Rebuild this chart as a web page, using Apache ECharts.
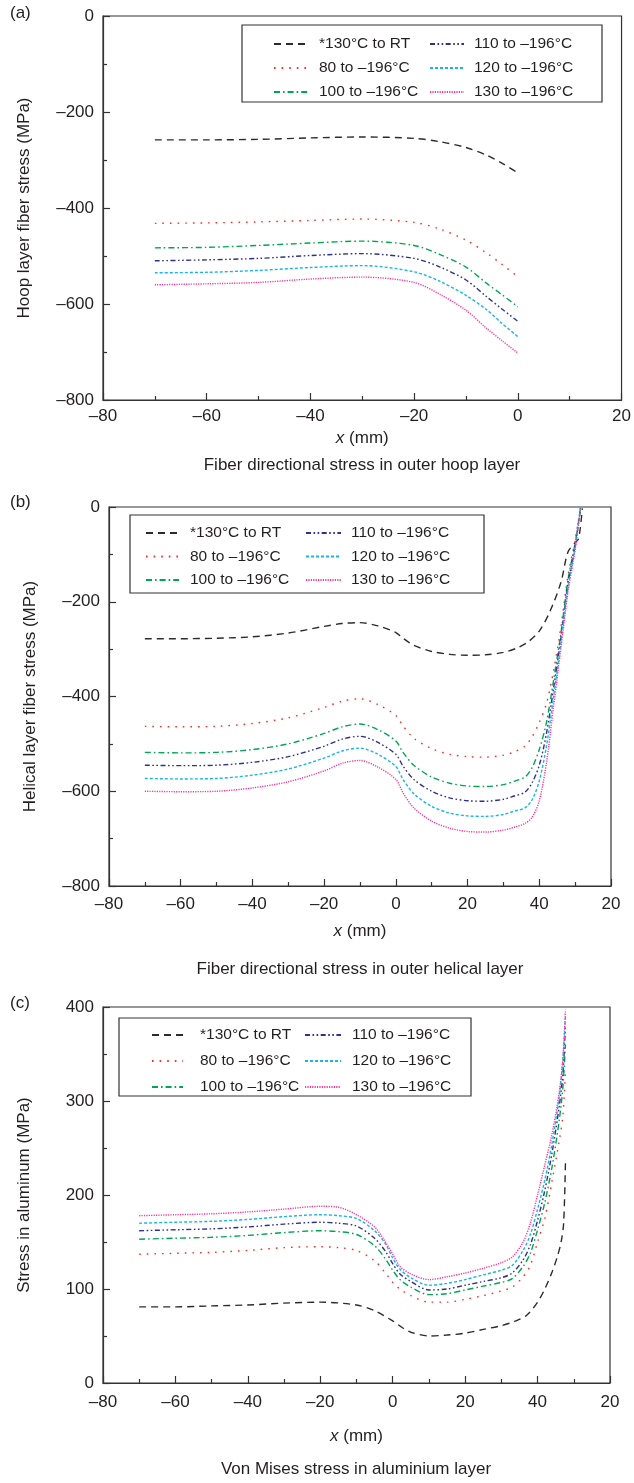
<!DOCTYPE html>
<html>
<head>
<meta charset="utf-8">
<script src="https://cdn.jsdelivr.net/npm/echarts@6/dist/echarts.min.js"></script>
<style>
  html, body { margin: 0; padding: 0; background: #fff; }
  #chart { width: 634px; height: 1483px; }
</style>
</head>
<body>
<div id="chart"></div>
<script>
const seriesNames = ['*130°C to RT', '80 to –196°C', '100 to –196°C',
  '110 to –196°C', '120 to –196°C', '130 to –196°C'];

// (a) fiber stress, outer hoop layer
const xHoop = [-70, -60, -50, -40, -30, -20, -15, -10, -6, -3, 0];
const hoopRT = [-258, -258, -257, -254, -252, -255, -262, -274, -290, -307, -327];
const hoop80 = [-432, -431, -429, -426, -423, -430, -444, -467, -494, -518, -543];
const hoop100 = [-483, -482, -478, -473, -469, -478, -497, -523, -557, -581, -606];
const hoop110 = [-510, -508, -505, -499, -495, -505, -523, -550, -585, -611, -636];
const hoop120 = [-535, -534, -530, -524, -520, -533, -553, -582, -612, -641, -668];
const hoop130 = [-560, -558, -555, -548, -544, -555, -580, -613, -651, -677, -702];

// (b) fiber stress, outer helical layer
const xHelRT = [-70, -60, -50, -40, -30, -20, -15, -10, -5, 0, 2, 5, 10, 15, 20, 25, 30, 34, 37, 40, 43, 46, 48, 50, 51, 52];
const helRT = [-278, -278, -277, -274, -266, -252, -246, -244, -251, -265, -277, -292, -305, -311, -313, -312, -307, -297, -284, -262, -220, -160, -95, -75, -66, -3];
const xHelCool = [-70, -60, -50, -40, -30, -20, -15, -10, -5, 0, 2, 5, 10, 15, 20, 25, 30, 33, 36, 38, 40, 42, 44, 46, 48, 50, 51.5];
const hel80 = [-463, -464, -463, -457, -445, -423, -410, -405, -417, -440, -462, -488, -510, -522, -527, -528, -524, -517, -505, -485, -455, -415, -345, -255, -145, -70, -2];
const hel100 = [-518, -519, -518, -512, -500, -478, -464, -458, -470, -494, -518, -545, -570, -583, -589, -590, -586, -579, -570, -550, -512, -455, -365, -268, -154, -76, -2];
const hel110 = [-545, -546, -545, -539, -527, -505, -490, -484, -497, -522, -547, -575, -600, -614, -620, -621, -617, -610, -602, -582, -545, -478, -382, -278, -162, -80, -3];
const hel120 = [-573, -574, -573, -566, -553, -530, -515, -509, -522, -548, -575, -605, -632, -646, -652, -653, -649, -642, -635, -618, -578, -505, -400, -288, -170, -85, -3];
const hel130 = [-600, -601, -600, -593, -580, -557, -541, -535, -549, -575, -603, -635, -663, -678, -685, -686, -682, -676, -668, -655, -620, -540, -420, -300, -180, -90, -4];

// (c) von Mises stress, aluminium layer
const xAlumRT = [-70, -60, -50, -40, -30, -20, -10, -5, 0, 3, 5, 10, 15, 20, 25, 30, 34, 37, 40, 42, 44, 45.5, 46.5, 47.2, 47.7];
const alumRT = [81, 81, 82, 83, 85, 86, 83, 77, 66, 58, 54, 50, 51, 53, 57, 61, 66, 72, 86, 100, 118, 135, 150, 170, 235];
const xAlumCool = [-70, -60, -50, -40, -30, -20, -15, -10, -5, -2, 0, 2, 5, 10, 15, 20, 25, 30, 33, 36, 38, 40, 42, 44, 46, 47, 47.7];
const alum80 = [137, 138, 139, 141, 144, 145, 144, 141, 130, 117, 107, 100, 93, 86, 86, 89, 93, 98, 102, 113, 125, 150, 175, 215, 258, 285, 330];
const alum100 = [153, 154, 155, 157, 160, 162, 161, 158, 146, 132, 120, 110, 102, 94, 95, 99, 103, 107, 111, 124, 138, 163, 192, 230, 280, 315, 360];
const alum110 = [162, 163, 164, 166, 169, 171, 170, 167, 154, 140, 127, 116, 108, 99, 100, 104, 108, 112, 117, 131, 147, 173, 205, 245, 295, 330, 380];
const alum120 = [170, 171, 172, 174, 177, 179, 178, 175, 162, 148, 133, 121, 112, 104, 106, 110, 115, 120, 125, 141, 158, 185, 216, 255, 305, 345, 390];
const alum130 = [178, 179, 180, 182, 185, 188, 187, 179, 166, 150, 137, 124, 116, 110, 113, 117, 122, 128, 134, 150, 170, 200, 232, 265, 310, 345, 397];

// tick labels
const xTicksA = ['–80', '–60', '–40', '–20', '0', '20'];
const xTicksBC = ['–80', '–60', '–40', '–20', '0', '20', '40', '20'];
const yTicksAB = ['–800', '–600', '–400', '–200', '0'];
const yTicksC = ['0', '100', '200', '300', '400'];

const colors = ['#2b2b2b', '#ff2b2b', '#00a651', '#2e3192', '#19b5ea', '#ff3399'];
const dashes = [[7, 5], [1.6, 6], [6, 3, 1.6, 3], [5, 2.5, 1.6, 2.5, 1.6, 2.5], [3, 2], [1.2, 1.2]];

const FONT = 'Liberation Sans, Arial, sans-serif';
const INK = '#231f20';

const chart = echarts.init(document.getElementById('chart'));

const grids = [
  { left: 103, top: 16, width: 519, height: 384 },
  { left: 109, top: 507, width: 502, height: 379 },
  { left: 103, top: 1007, width: 507, height: 376 }
].map(g => ({ ...g, show: true, borderColor: '#333', borderWidth: 1.2, backgroundColor: 'transparent' }));

const axisBase = {
  axisLine: { show: true, onZero: false, lineStyle: { color: '#333', width: 1.2 } },
  axisTick: { show: true, inside: true, length: 7, lineStyle: { color: '#333', width: 1.2 } },
  minorTick: { show: true, splitNumber: 2, length: 4, lineStyle: { color: '#333', width: 1.2 } },
  splitLine: { show: false },
  axisLabel: { color: INK, fontSize: 17, fontFamily: FONT }
};

const xAxis = (gi, max, ticks, nameGap, margin) => ({
  ...axisBase,
  type: 'value', gridIndex: gi, min: -80, max: max, interval: 20,
  name: '{i|x} (mm)', nameLocation: 'middle', nameGap: nameGap,
  nameTextStyle: { color: INK, fontSize: 17, fontFamily: FONT, rich: { i: { fontStyle: 'italic', fontSize: 17, fontFamily: FONT, color: INK } } },
  axisLabel: { ...axisBase.axisLabel, margin: margin, formatter: v => ticks[Math.round((v + 80) / 20)] }
});

const yAxis = (gi, min, max, interval, ticks, name) => ({
  ...axisBase,
  type: 'value', gridIndex: gi, min: min, max: max, interval: interval,
  name: name, nameLocation: 'middle', nameGap: 70, nameRotate: 90,
  nameTextStyle: { color: INK, fontSize: 17, fontFamily: FONT },
  axisLabel: { ...axisBase.axisLabel, margin: 9, formatter: v => ticks[Math.round((v - min) / interval)] }
});

const mk = (gi, idx, xs, ys) => ({
  name: seriesNames[idx], type: 'line', xAxisIndex: gi, yAxisIndex: gi,
  data: xs.map((x, i) => [x, ys[i]]),
  symbol: 'none', smooth: 0.3, silent: true,
  lineStyle: { color: colors[idx], width: 1.4, type: dashes[idx] },
  itemStyle: { color: colors[idx] }
});

// one legend per column, the box is drawn as a graphic rect
const legendCol = (names, left, top, gap, itemW, textPad) => ({
  orient: 'vertical', left: left, top: top, padding: 0,
  itemGap: gap, itemWidth: itemW, itemHeight: 14,
  data: names, selectedMode: false,
  itemStyle: { opacity: 0 },
  textStyle: { color: INK, fontSize: 15.5, fontFamily: FONT, lineHeight: 18, padding: [0, 0, 0, textPad] }
});
const leftNames = seriesNames.slice(0, 3);
const rightNames = seriesNames.slice(3);

const box = (x, y, w, h) => ({
  type: 'rect', shape: { x: x, y: y, width: w, height: h }, silent: true,
  style: { fill: 'transparent', stroke: '#333', lineWidth: 1.2 }
});

const caption = (x, y, s) => ({
  type: 'text', x: x, y: y, silent: true,
  style: { text: s, fill: INK, font: '17px ' + FONT, align: 'center' }
});

chart.setOption({
  animation: false,
  grid: grids,
  xAxis: [xAxis(0, 20, xTicksA, 30, 8), xAxis(1, 60, xTicksBC, 37, 10), xAxis(2, 60, xTicksBC, 45, 11)],
  yAxis: [
    yAxis(0, -800, 0, 200, yTicksAB, 'Hoop layer fiber stress (MPa)'),
    yAxis(1, -800, 0, 200, yTicksAB, 'Helical layer fiber stress (MPa)'),
    yAxis(2, 0, 400, 100, yTicksC, 'Stress in aluminum (MPa)')
  ],
  legend: [
    legendCol(leftNames, 273, 35, 6, 34, 6),
    legendCol(rightNames, 429, 35, 6, 34, 5),
    legendCol(leftNames, 145, 524, 5.5, 33, 6),
    legendCol(rightNames, 305, 524, 5.5, 35, 5),
    legendCol(leftNames, 151, 1026, 8, 31, 12),
    legendCol(rightNames, 304, 1026, 8, 36, 6)
  ],
  graphic: [
    box(242, 25, 360, 77),
    box(130, 515, 354, 78),
    box(119, 1018, 352, 78),
    { type: 'text', x: 10, y: 5, style: { text: '(a)', fill: INK, font: '17px ' + FONT } },
    { type: 'text', x: 10, y: 494, style: { text: '(b)', fill: INK, font: '17px ' + FONT } },
    { type: 'text', x: 10, y: 995, style: { text: '(c)', fill: INK, font: '17px ' + FONT } },
    caption(362, 457, 'Fiber directional stress in outer hoop layer'),
    caption(360, 961, 'Fiber directional stress in outer helical layer'),
    caption(356, 1461, 'Von Mises stress in aluminium layer')
  ],
  series: [
    mk(0, 0, xHoop, hoopRT), mk(0, 1, xHoop, hoop80), mk(0, 2, xHoop, hoop100),
    mk(0, 3, xHoop, hoop110), mk(0, 4, xHoop, hoop120), mk(0, 5, xHoop, hoop130),
    mk(1, 0, xHelRT, helRT), mk(1, 1, xHelCool, hel80), mk(1, 2, xHelCool, hel100),
    mk(1, 3, xHelCool, hel110), mk(1, 4, xHelCool, hel120), mk(1, 5, xHelCool, hel130),
    mk(2, 0, xAlumRT, alumRT), mk(2, 1, xAlumCool, alum80), mk(2, 2, xAlumCool, alum100),
    mk(2, 3, xAlumCool, alum110), mk(2, 4, xAlumCool, alum120), mk(2, 5, xAlumCool, alum130)
  ]
});
</script>
</body>
</html>
